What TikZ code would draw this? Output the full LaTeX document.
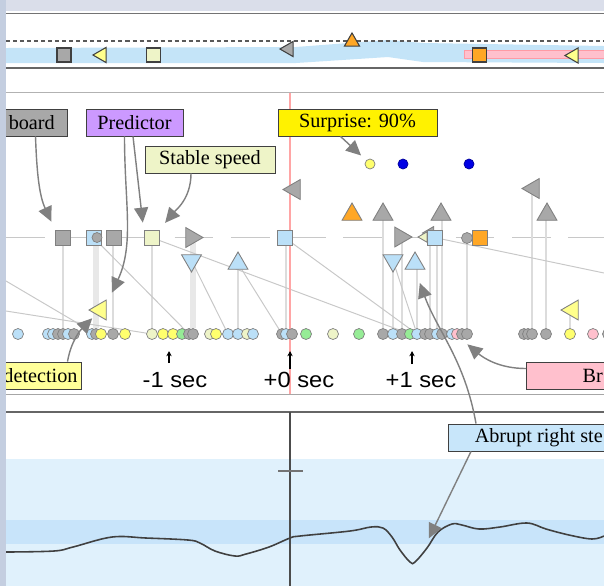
\documentclass[tikz,border=0pt]{standalone}
\usepackage{fontspec}
\setmainfont{Liberation Serif}
\newfontfamily\axisfont{Liberation Sans}
\usetikzlibrary{arrows.meta,shapes.geometric}

\definecolor{mkgray}{RGB}{168,168,168}
\definecolor{mkedge}{RGB}{128,128,128}
\definecolor{topedge}{RGB}{64,64,64}
\definecolor{mkblue}{RGB}{187,224,248}
\definecolor{mkcream}{RGB}{238,244,200}
\definecolor{mkyellow}{RGB}{255,255,140}
\definecolor{dotyellow}{RGB}{255,255,110}
\definecolor{mkorange}{RGB}{255,167,38}
\definecolor{mkgreen}{RGB}{150,236,150}
\definecolor{mkpink}{RGB}{255,192,205}
\definecolor{bandblue}{RGB}{196,228,248}
\definecolor{paleblue}{RGB}{224,241,252}
\definecolor{midblue}{RGB}{200,228,250}
\definecolor{anngray}{RGB}{128,128,128}
\definecolor{guidegray}{RGB}{220,220,220}
\definecolor{wideguidegray}{RGB}{232,232,232}
\definecolor{linkgray}{RGB}{200,200,200}
\definecolor{redline}{RGB}{255,165,165}
\definecolor{boxpurple}{RGB}{204,153,255}
\definecolor{boxyellow}{RGB}{255,255,153}
\definecolor{boxblue}{RGB}{200,230,250}
\definecolor{sidegray}{RGB}{196,206,224}
\definecolor{topgray}{RGB}{218,222,234}

\pgfdeclarelayer{panels}
\pgfdeclarelayer{links}
\pgfsetlayers{panels,links,main}

\begin{document}
\begin{tikzpicture}[x=0.02cm, y=-0.02cm,
    mk/.style={draw=mkedge, fill=mkgray, inner sep=0pt, line width=0.5pt},
    sq/.style={mk, rectangle, minimum size=0.3cm},
    tri/.style={mk, regular polygon, regular polygon sides=3, minimum size=0.46cm},
    tup/.style={tri},
    tdown/.style={tri, shape border rotate=180},
    tleft/.style={tri, shape border rotate=90},
    tright/.style={tri, shape border rotate=-90},
    topmk/.style={draw=topedge, line width=0.6pt},
    dot/.style={circle, draw=mkedge, fill=mkgray, minimum size=0.22cm, inner sep=0pt, line width=0.4pt},
    lbox/.style={draw=black!75, line width=0.5pt, font=\fontsize{11.5}{13}\selectfont,
                 minimum height=0.54cm, inner ysep=0pt},
    ann/.style={draw=anngray, line width=0.8pt, -{Triangle[length=8.5pt,width=8pt]}, shorten >=4pt},
    guide/.style={draw=guidegray, line width=1.1pt},
    wideguide/.style={draw=wideguidegray, line width=3.5pt},
    link/.style={draw=linkgray, line width=0.55pt},
    tick/.style={-{Stealth[length=3pt,width=3pt]}, line width=0.6pt},
    secl/.style={font=\axisfont\fontsize{12.5}{14}\selectfont, anchor=base}
  ]
\useasboundingbox (0,0) rectangle (604,586);

% panels
\begin{pgfonlayer}{panels}
  \fill[white] (6,11) rectangle (604,586);
  \fill[bandblue] (6,48) -- (296,47) -- (388,40) -- (423,43) -- (604,46)
     -- (604,63) -- (423,62) -- (388,57) -- (296,63) -- (6,63) -- cycle;
  \fill[mkpink] (464,50) rectangle (604,58);
  \draw[mkpink!80!red, line width=0.3pt] (604,50) -- (464,50) -- (464,58) -- (604,58);
  \fill[paleblue] (6,459) rectangle (604,586);
  \fill[midblue] (6,520) rectangle (604,544);
\end{pgfonlayer}

\draw[black!55, line width=1.1pt] (6,13.5) -- (604,13.5);
\draw[black!65, dash pattern=on 2.3pt off 1.7pt, line width=0.7pt] (6,41) -- (604,41);
\draw[black!60, line width=1.1pt] (6,68) -- (604,68);
\draw[black!30, line width=0.6pt] (6,92.5) -- (604,92.5);
\draw[black!35, line width=0.6pt] (6,394.5) -- (604,394.5);
\draw[black!60, line width=0.9pt] (6,412) -- (604,412);

% top strip markers
\node[sq, topmk, minimum size=0.28cm] (tsA) at (64,55) {};
\node[tleft, topmk, fill=mkyellow, minimum size=0.35cm] (ttA) at (101.7,55) {};
\node[sq, topmk, fill=mkcream, minimum size=0.28cm] (tsB) at (153.5,55) {};
\node[tleft, topmk, minimum size=0.35cm] (ttB) at (288.7,49) {};
\node[tup, topmk, fill=mkorange, minimum size=0.35cm] (ttC) at (352,41.7) {};
\node[sq, topmk, fill=mkorange, minimum size=0.28cm] (tsC) at (479.5,55) {};
\node[tleft, topmk, fill=mkyellow, minimum size=0.35cm] (ttD) at (573.7,55.5) {};

% event markers
\node[dot, fill=dotyellow, minimum size=0.2cm] (dY) at (370,164) {};
\node[dot, fill=blue!90!black, draw=blue!60!black, minimum size=0.2cm] (dB1) at (403,164) {};
\node[dot, fill=blue!90!black, draw=blue!60!black, minimum size=0.2cm] (dB2) at (469,164) {};

\node[tleft] (tGL1) at (294.5,189.5) {};
\node[tleft] (tGL2) at (533.5,188.5) {};
\node[tup, fill=mkorange] (tOU) at (352,214.5) {};
\node[tup] (tGU1) at (383,214.5) {};
\node[tup] (tGU2) at (441,214.5) {};
\node[tup] (tGU3) at (547,214.5) {};

\node[sq] (sqA) at (63,237.5) {};
\node[sq, fill=mkblue] (sqB) at (93.5,237.5) {};
\node[dot, minimum size=0.2cm] (cB) at (97,237.5) {};
\node[sq] (sqD) at (113.5,237.5) {};
\node[sq, fill=mkcream] (sqC) at (151.5,237.5) {};
\node[tright] (tGR1) at (191.5,237.5) {};
\node[sq, fill=mkblue] (sqE) at (284.5,237.5) {};
\node[tright] (tGR2) at (400.5,237) {};
\node[tleft, minimum size=0.3cm] (tGS) at (430,233) {};
\node[tleft, fill=mkcream, minimum size=0.24cm] (tCL) at (424,237) {};
\node[sq, fill=mkblue] (sqF) at (434.5,237.5) {};
\node[dot, minimum size=0.22cm] (cF) at (467,238) {};
\node[sq, fill=mkorange] (sqG) at (479.5,238) {};

\node[tdown, fill=mkblue] (tBD1) at (191.5,260.5) {};
\node[tup, fill=mkblue] (tBU1) at (238,263.5) {};
\node[tdown, fill=mkblue] (tBD2) at (393,260.5) {};
\node[tup, fill=mkblue] (tBU2) at (415,263.5) {};

\node[tleft, fill=mkyellow] (tYL1) at (100.5,310) {};
\node[tleft, fill=mkyellow] (tYL2) at (572.5,310) {};

% timeline dots
\foreach \xx/\cl in {18/mkblue, 48/mkblue, 53/mkblue, 58/mkgray, 63/mkgray, 68/mkblue,
    74/mkgray, 92/mkblue, 96/mkgray, 101/dotyellow, 113/mkgray, 125/dotyellow,
    152/mkcream, 163/dotyellow, 173/dotyellow, 182/mkgreen, 189/mkgray, 193/mkgray,
    210/mkcream, 216/dotyellow, 228/mkblue, 238/mkblue, 247/mkcream, 253/mkblue,
    282/mkgray, 286/mkblue, 292/mkgray, 306/mkgreen, 333/mkcream, 359/mkgreen,
    383/mkgray, 393/mkblue, 402/mkgray, 410/mkgreen, 417/mkblue, 425/mkgray,
    430/mkgray, 437/mkblue, 442/mkgray, 452/mkblue, 457/mkpink, 462/mkgray,
    467/mkgray, 524/mkgray, 528/mkgray, 532/mkgray, 546/mkgray, 570/dotyellow,
    593/mkpink, 608/mkgray}
  \node[dot, fill=\cl] (d\xx) at (\xx,334) {};

\coordinate (edgeA) at (6,281);
\coordinate (edgeB) at (6,311);
\coordinate (edgeR) at (604,273);

\begin{pgfonlayer}{links}
  \draw[linkgray, line width=1.1pt, dash pattern=on 22pt off 10pt] (6,237.5) -- (604,237.5);
  \foreach \m/\d in {sqA/63, sqD/113, sqC/152, tBU1/238, sqE/286, tGU1/383,
      tBD2/393, tGR2/402, tBU2/417, tCL/430, sqF/437, tGU2/442, cF/467,
      tGL2/532, tGU3/546, tYL2/570}
    \draw[guide] (d\d |- \m) -- (d\d);
  \draw[wideguide] (d96 |- sqB) -- (d96);
  \draw[wideguide] (d193 |- tGR1) -- (d193);
  \draw[link] (edgeA) -- (d96);
  \draw[link] (edgeB) -- (d152);
  \draw[link] (sqB) -- (d189);
  \draw[link] (sqC) -- (d410);
  \draw[link] (sqE) -- (d417);
  \draw[link] (tBD1) -- (d228);
  \draw[link] (tBU1) -- (d282);
  \draw[link] (tBD2) -- (d417);
  \draw[link] (sqF) -- (edgeR);
  \draw[redline, line width=1.3pt] (290,92.5) -- (290,394.5);
\end{pgfonlayer}

% time axis
\node[secl] (tm1) at (175,387) {\scalebox{1.08}[1]{-1 sec}};
\node[secl] (t0) at (299,387) {\scalebox{1.08}[1]{+0 sec}};
\node[secl] (tp1) at (421,387) {\scalebox{1.08}[1]{+1 sec}};
\draw[tick] (169,363) -- (169,351);
\draw[tick] (290,369) -- (290,351);
\draw[tick] (412,364) -- (412,351);

% labels
\node[lbox, fill=mkgray, anchor=east, inner xsep=7pt] (lbBoard) at (67.5,122.5) {board};
\node[lbox, fill=boxpurple, minimum width=1.94cm] (lbPred) at (134.5,122.5) {Predictor};
\node[lbox, fill=mkcream, minimum width=2.6cm] (lbStable) at (210,159.5) {Stable speed};
\node[lbox, fill=yellow, minimum width=3.18cm] (lbSurp) at (357.5,122.5) {Surprise: 90\%};
\node[lbox, fill=boxyellow, anchor=east, inner xsep=2pt] (lbDet) at (81.5,375.5) {detection};
\node[lbox, fill=mkpink, anchor=west, inner xsep=32pt] (lbBr) at (526,375.5) {Br};
\node[lbox, fill=boxblue, anchor=west, inner xsep=15pt] (lbAbr) at (448,437.5) {Abrupt right ste};

% steering trace
\coordinate (steer) at (428,540);
\draw[black!70, line width=0.9pt] (290,412) -- (290,586);
\draw[black!55, line width=1.1pt] (278,471) -- (303,471);
\draw[black!75, line width=0.9pt] plot[smooth, tension=0.6] coordinates {
  (6,552) (54,551) (73,547) (112,537) (146,538) (188,540) (200,543) (215,551)
  (235,556) (246,554) (269,547) (290,538) (300,536) (350,531) (371,527) (383,528)
  (392,537) (400,550) (410,562) (415,562) (427,548) (438,532) (452,524) (462,525)
  (479,529) (500,527) (527,523) (546,529) (569,535) (592,539) (604,536)};

% annotations
\draw[ann, shorten >=5pt] ([xshift=-0.64cm]lbBoard.south east) to[out=-88,in=115] (sqA.north west);
\draw[ann, shorten >=7pt] ([xshift=-0.2cm]lbPred.south) to[out=-90,in=65] (tYL1.north east);
\draw[ann] ([xshift=-0.03cm]lbPred.south) -- (sqC.north west);
\draw[ann, shorten >=5pt] ([xshift=-0.38cm]lbStable.south) to[out=-90,in=50] (sqC.north east);
\draw[ann] ([xshift=-0.34cm]lbSurp.south) -- (dY.north west);
\draw[ann, shorten >=3pt] ([xshift=-0.28cm]lbDet.north east) to[out=80,in=-135] (tYL1.south west);
\draw[ann] ([yshift=0.14cm]lbBr.west) to[out=180,in=-40] (d462.south);
\draw[ann, shorten >=8pt] ([xshift=0.56cm]lbAbr.north west) to[out=100,in=-70] (tBU2.south);
\draw[ann, shorten >=1pt] ([xshift=0.46cm]lbAbr.south west) -- (steer);

% window frame
\fill[topgray] (0,0) rectangle (604,11);
\fill[sidegray] (0,0) rectangle (6,586);
\end{tikzpicture}
\end{document}
